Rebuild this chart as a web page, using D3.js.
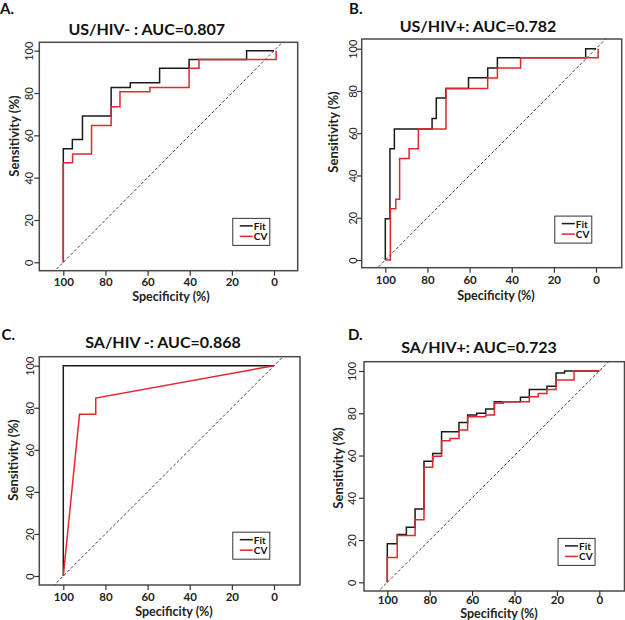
<!DOCTYPE html>
<html><head><meta charset="utf-8">
<script src="https://cdn.jsdelivr.net/npm/d3@7"></script>
<style>body{margin:0;background:#fff}svg{display:block}</style>
</head><body><svg id="c" width="625" height="620"></svg>
<script>
const panelLetters = ["A.", "B.", "C.", "D."];
const panelTitles = ["US/HIV- : AUC=0.807", "US/HIV+: AUC=0.782", "SA/HIV -: AUC=0.868", "SA/HIV+: AUC=0.723"];
const tickValues = [100, 80, 60, 40, 20, 0];
const legendLabels = ["Fit", "CV"];
const xAxisTitle = "Specificity (%)";
const yAxisTitle = "Sensitivity (%)";

// ROC points: [specificity %, sensitivity %]
const usNegFit = [[100,0],[100,53.7],[95.7,53.7],[95.7,58],[90.9,58],[90.9,69.1],[77.3,69.1],[77.3,82.6],[68.2,82.6],[68.2,84.8],[54.3,84.8],[54.3,91.7],[40.3,91.7],[40.3,95.9],[13,95.9],[13,100],[0,100]];
const usNegCV = [[100,0],[100,47.1],[95.6,47.1],[95.6,51.2],[86.6,51.2],[86.6,64.7],[77.3,64.7],[77.3,73.5],[73.1,73.5],[73.1,80.6],[58.9,80.6],[58.9,82.6],[40.3,82.6],[40.3,91.7],[35.6,91.7],[35.6,95.9],[-1,95.9],[-1,100]];
const usPosFit = [[100,0],[100,19.5],[97.8,19.5],[97.8,52.7],[95.7,52.7],[95.7,62],[77.8,62],[77.8,67],[75.8,67],[75.8,76.7],[71.3,76.7],[71.3,81.2],[60.5,81.2],[60.5,86.3],[51.4,86.3],[51.4,90.9],[46.8,90.9],[46.8,95.7],[4.9,95.7],[4.9,100],[0,100]];
const usPosCV = [[100,0],[97.6,0],[97.6,24.3],[95,24.3],[95,28.8],[93.2,28.8],[93.2,48],[88.7,48],[88.7,52.6],[84.3,52.6],[84.3,62],[71.2,62],[71.2,81.2],[51.4,81.2],[51.4,86.1],[46.8,86.1],[46.8,90.9],[35.8,90.9],[35.8,95.7],[-1,95.7],[-1,100]];
const saNegFit = [[100,0],[100,100],[0,100]];
const saNegCV = [[100,0],[92.3,76.9],[84.6,76.9],[84.6,84.6],[0,100]];
const saPosFit = [[100,0],[100,18.2],[95.3,18.2],[95.3,22.6],[91,22.6],[91,26],[86.9,26],[86.9,34.7],[82.7,34.7],[82.7,57.3],[78.6,57.3],[78.6,61],[74.4,61],[74.4,71.3],[66.2,71.3],[66.2,75.6],[62.1,75.6],[62.1,79.2],[57.8,79.2],[57.8,80],[53.6,80],[53.6,82],[49.5,82],[49.5,85.5],[37.2,85.5],[37.2,87.6],[33,87.6],[33,91.3],[24.7,91.3],[24.7,92.8],[20.4,92.8],[20.4,99],[16.4,99],[16.4,100],[0,100]];
const saPosCV = [[100,0],[100,11.7],[95.3,11.7],[95.3,22.1],[86.9,22.1],[86.9,29.6],[82.7,29.6],[82.7,54.4],[78.6,54.4],[78.6,59.6],[74.4,59.6],[74.4,67],[70.4,67],[70.4,68.1],[66.2,68.1],[66.2,72.1],[62.1,72.1],[62.1,78.3],[53.6,78.3],[53.6,79.2],[49.5,79.2],[49.5,84.7],[45.3,84.7],[45.3,85.5],[33,85.5],[33,87.8],[28.8,87.8],[28.8,89.3],[24.7,89.3],[24.7,91.3],[20.4,91.3],[20.4,95.7],[11.9,95.7],[11.9,100],[0,100]];

const fitSeries = [usNegFit, usPosFit, saNegFit, saPosFit];
const cvSeries = [usNegCV, usPosCV, saNegCV, saPosCV];

// layout (pixel geometry of each panel)
const layout = [
  {f:[39.3,297.7,42.3,270.7], x:[63.3,274], y:[50.7,262.3], title:[146.7,28.5], letter:[0,8], ylab:[14,136], xlab:[171,296], ytx:28.5, xty:282},
  {f:[361.7,621.7,39,267.7], x:[385.3,596], y:[48.7,260], title:[478,25], letter:[349,8], ylab:[333,132], xlab:[496,295], ytx:352, xty:280},
  {f:[39.3,300,356.7,585], x:[63.3,274], y:[365.7,576], title:[163,341.7], letter:[1.5,334], ylab:[12.5,460], xlab:[174,611.5], ytx:29, xty:597},
  {f:[364,624.5,361.7,591], x:[387.3,599.3], y:[371,582.3], title:[479,346.7], letter:[348,334], ylab:[338,468], xlab:[499,613.5], ytx:351, xty:600}
];

const svg = d3.select("#c");
const FONT = "Lato, 'Open Sans', sans-serif";

layout.forEach((L, i) => {
  const g = svg.append("g");
  const xs = d3.scaleLinear().domain([100, 0]).range(L.x);
  const ys = d3.scaleLinear().domain([100, 0]).range(L.y);
  const [fx0, fx1, fy0, fy1] = L.f;

  const clipId = "clip" + i;
  g.append("clipPath").attr("id", clipId).append("rect")
    .attr("x", fx0).attr("y", fy0).attr("width", fx1 - fx0).attr("height", fy1 - fy0);

  // diagonal reference
  g.append("line").attr("clip-path", `url(#${clipId})`)
    .attr("x1", xs(130)).attr("y1", ys(-30)).attr("x2", xs(-30)).attr("y2", ys(130))
    .attr("stroke", "#444").attr("stroke-width", 1).attr("stroke-dasharray", "3,2");

  const line = d3.line().x(d => xs(d[0])).y(d => ys(d[1]));
  g.append("path").datum(fitSeries[i]).attr("d", line)
    .attr("fill", "none").attr("stroke", "#1a1a1a").attr("stroke-width", 1.5);
  g.append("path").datum(cvSeries[i]).attr("d", line)
    .attr("fill", "none").attr("stroke", "#e3262f").attr("stroke-width", 1.5);

  // frame
  g.append("rect").attr("x", fx0).attr("y", fy0).attr("width", fx1 - fx0).attr("height", fy1 - fy0)
    .attr("fill", "none").attr("stroke", "#4a4a4a").attr("stroke-width", 1.5);

  // x axis
  const xAxis = d3.axisBottom(xs).tickValues(tickValues).tickSize(5).tickFormat(d3.format("d"));
  const xg = g.append("g").attr("transform", `translate(0,${fy1})`).call(xAxis);
  xg.select(".domain").remove();
  xg.selectAll(".tick line").attr("stroke", "#333").attr("stroke-width", 1.2);
  xg.selectAll(".tick text").attr("y", L.xty - fy1).attr("dy", "0.35em")
    .attr("font-family", FONT).attr("font-weight", "bold").attr("font-size", 11.5).attr("fill", "#222");

  // y axis
  const yAxis = d3.axisLeft(ys).tickValues(tickValues).tickSize(5).tickFormat(d3.format("d"));
  const yg = g.append("g").attr("transform", `translate(${fx0},0)`).call(yAxis);
  yg.select(".domain").remove();
  yg.selectAll(".tick line").attr("stroke", "#333").attr("stroke-width", 1.2);
  yg.selectAll(".tick text")
    .attr("x", null).attr("dy", null)
    .attr("transform", `translate(${L.ytx - fx0},0) rotate(-90)`)
    .attr("text-anchor", "middle").attr("dominant-baseline", "central")
    .attr("font-family", FONT).attr("font-size", 11).attr("fill", "#222");

  // titles
  g.append("text").attr("x", L.title[0]).attr("y", L.title[1]).attr("text-anchor", "middle")
    .attr("dominant-baseline", "central").attr("font-family", FONT).attr("font-weight", "bold")
    .attr("font-size", 16).attr("fill", "#111").text(panelTitles[i]);
  g.append("text").attr("x", L.letter[0]).attr("y", L.letter[1]).attr("dominant-baseline", "central")
    .attr("font-family", FONT).attr("font-weight", "bold").attr("font-size", 15).attr("fill", "#111")
    .text(panelLetters[i]);
  g.append("text").attr("x", L.xlab[0]).attr("y", L.xlab[1]).attr("text-anchor", "middle")
    .attr("dominant-baseline", "central").attr("font-family", FONT).attr("font-weight", "bold")
    .attr("font-size", 12.5).attr("fill", "#222").text(xAxisTitle);
  g.append("text").attr("transform", `translate(${L.ylab[0]},${L.ylab[1]}) rotate(-90)`)
    .attr("text-anchor", "middle").attr("dominant-baseline", "central").attr("font-family", FONT)
    .attr("font-weight", "bold").attr("font-size", 13).attr("fill", "#222").text(yAxisTitle);

  // legend
  const lx1 = xs(2), ly1 = ys(8), lw = 37, lh = 27;
  const lg = g.append("g").attr("transform", `translate(${lx1 - lw},${ly1 - lh})`);
  lg.append("rect").attr("width", lw).attr("height", lh).attr("fill", "#fff")
    .attr("stroke", "#333").attr("stroke-width", 1);
  legendLabels.forEach((lab, k) => {
    const yy = 7.5 + k * 10.5;
    lg.append("line").attr("x1", 7).attr("x2", 20).attr("y1", yy).attr("y2", yy)
      .attr("stroke", k === 0 ? "#1a1a1a" : "#e3262f").attr("stroke-width", 1.5);
    lg.append("text").attr("x", 21).attr("y", yy).attr("dominant-baseline", "central")
      .attr("font-family", FONT).attr("font-weight", "bold").attr("font-size", 10).attr("fill", "#111").text(lab);
  });
});
</script>
</body></html>
